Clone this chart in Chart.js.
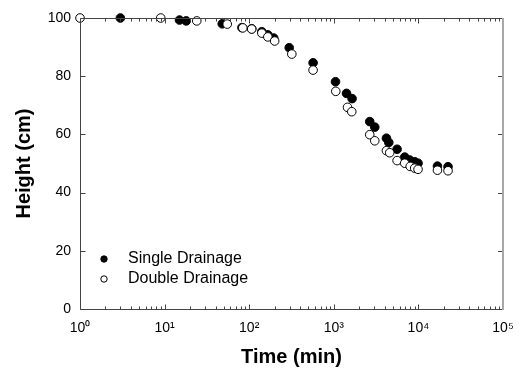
<!DOCTYPE html>
<html>
<head>
<meta charset="utf-8">
<script src="https://cdn.jsdelivr.net/npm/chart.js@4.4.1/dist/chart.umd.min.js"></script>
<style>
  html, body { margin: 0; padding: 0; background: #fff; }
  #wrap { width: 521px; height: 371px; }
</style>
</head>
<body>
<div id="wrap"><canvas id="heightChart" width="521" height="371"></canvas></div>
<script>
// (time in min, height in cm)
const singleTime = [3, 15, 18, 48, 82, 107, 141, 166, 195, 297, 569, 1047, 1414, 1645, 2660, 3050, 4190, 4470, 5600, 6890, 7890, 9040, 9900, 16800, 22400];
const singleHeight = [100, 99.3, 99, 98, 96.7, 96.3, 95.3, 94.2, 93.1, 89.8, 84.6, 78.1, 74.1, 72.3, 64.4, 62.5, 58.7, 57.2, 54.9, 52.2, 51.2, 50.6, 50.1, 49.1, 48.9];
const doubleTime = [1, 9, 24, 55, 84, 107, 141, 166, 200, 319, 569, 1055, 1452, 1630, 2660, 3050, 4190, 4580, 5600, 6890, 8000, 9040, 9900, 16800, 22400];
const doubleHeight = [100, 100, 99, 97.9, 96.6, 96.2, 94.8, 93.5, 92.1, 87.6, 82.1, 74.8, 69.3, 67.8, 59.9, 57.8, 54.4, 53.7, 51, 50.1, 49, 48.4, 48, 47.7, 47.5];

const xTicks = [1, 10, 100, 1000, 10000, 100000];
const yTicks = [0, 20, 40, 60, 80, 100];
const seriesNames = ["Single Drainage", "Double Drainage"];

const FONT = "'Liberation Sans', Arial, sans-serif";
const sup = ["\u2070", "\u00b9", "\u00b2", "\u00b3", "\u2074", "\u2075"];

const toPoints = (xs, ys) => xs.map((x, i) => ({ x: x, y: ys[i] }));

// box round the plot with inward ticks
function drawBox(chart) {
  const c = chart.ctx, a = chart.chartArea;
  const xs = chart.scales.x, ys = chart.scales.y;
  const L = Math.round(a.left) + 0.5, R = Math.round(a.right);
  const T = Math.round(a.top) + 0.5, B = Math.round(a.bottom) + 0.5;
  c.save();
  c.lineWidth = 1;
  c.strokeStyle = "#444444";
  c.beginPath();
  c.moveTo(L, T);
  c.lineTo(L, B);
  c.lineTo(R, B);
  c.moveTo(L, T);
  c.lineTo(R, T);
  for (let d = 0; d < xTicks.length; d++) {
    for (let m = 1; m <= 9; m++) {
      const v = xTicks[d] * m;
      if (v > xTicks[xTicks.length - 1]) break;
      const px = Math.round(xs.getPixelForValue(v)) + 0.5;
      const len = m === 1 ? 5 : 3;
      c.moveTo(px, B);
      c.lineTo(px, B - len);
      c.moveTo(px, T);
      c.lineTo(px, T + len);
    }
  }
  yTicks.forEach(v => {
    const py = Math.round(ys.getPixelForValue(v)) + 0.5;
    c.moveTo(L, py);
    c.lineTo(L + 5, py);
    c.moveTo(R, py);
    c.lineTo(R - 5, py);
  });
  c.stroke();

  c.strokeStyle = "#a8a8a8";
  c.lineWidth = 2;
  c.beginPath();
  c.moveTo(R, T - 0.5);
  c.lineTo(R, B + 0.5);
  c.stroke();
  c.restore();
}

function drawKey(chart) {
  const c = chart.ctx, a = chart.chartArea;
  c.save();
  c.font = "16px " + FONT;
  c.textBaseline = "middle";
  seriesNames.forEach((name, i) => {
    const ds = chart.data.datasets[i];
    const cx = a.left + 24, cy = a.bottom - 50 + i * 20;
    c.beginPath();
    c.arc(cx, cy, 3.2, 0, Math.PI * 2);
    c.fillStyle = ds.backgroundColor;
    c.fill();
    c.lineWidth = 1;
    c.strokeStyle = ds.borderColor;
    c.stroke();
    c.fillStyle = "#000";
    c.fillText(name, cx + 24, cy);
  });
  c.restore();
}

const boxAndKey = {
  id: "boxAndKey",
  afterDraw(chart) {
    drawBox(chart);
    drawKey(chart);
  }
};

const ctx = document.getElementById("heightChart").getContext("2d");
const heightChart = new Chart(ctx, {
  type: "scatter",
  data: {
    datasets: [
      {
        label: seriesNames[0],
        data: toPoints(singleTime, singleHeight),
        backgroundColor: "#000",
        borderColor: "#000",
        borderWidth: 1,
        pointRadius: 4.3,
        clip: false,
        order: 1,
      },
      {
        label: seriesNames[1],
        data: toPoints(doubleTime, doubleHeight),
        backgroundColor: "#fff",
        borderColor: "#000",
        borderWidth: 1,
        pointRadius: 4.3,
        clip: false,
        order: 0,
      }
    ]
  },
  options: {
    responsive: false,
    animation: false,
    layout: { padding: { top: 18, right: 18, left: 0, bottom: 0 } },
    plugins: {
      legend: { display: false },
      tooltip: { enabled: false },
    },
    scales: {
      x: {
        type: "logarithmic",
        min: 1,
        max: 100000,
        grid: { display: false, drawTicks: false },
        border: { display: false },
        afterBuildTicks: (scale) => { scale.ticks = xTicks.map(v => ({ value: v })); },
        afterFit: (scale) => {
          scale.height = 62;
          scale.paddingLeft = 0;
          scale.paddingRight = 0;
        },
        ticks: {
          color: "#000",
          padding: 11,
          maxRotation: 0,
          autoSkip: false,
          font: { family: FONT, size: 14 },
          callback: (v) => "10" + sup[Math.round(Math.log10(v))],
        },
        title: {
          display: true,
          text: "Time (min)",
          color: "#000",
          padding: { top: 0, bottom: 2 },
          font: { family: FONT, size: 20, weight: "bold" },
        },
      },
      y: {
        min: 0,
        max: 100,
        grid: { display: false, drawTicks: false },
        border: { display: false },
        afterBuildTicks: (scale) => { scale.ticks = yTicks.map(v => ({ value: v })); },
        afterFit: (scale) => { scale.width = 80; },
        ticks: {
          color: "#000",
          padding: 9,
          font: { family: FONT, size: 14 },
        },
        title: {
          display: true,
          text: "Height (cm)",
          color: "#000",
          padding: { top: 12, bottom: 0 },
          font: { family: FONT, size: 20, weight: "bold" },
        },
      },
    },
  },
  plugins: [boxAndKey],
});
</script>
</body>
</html>
